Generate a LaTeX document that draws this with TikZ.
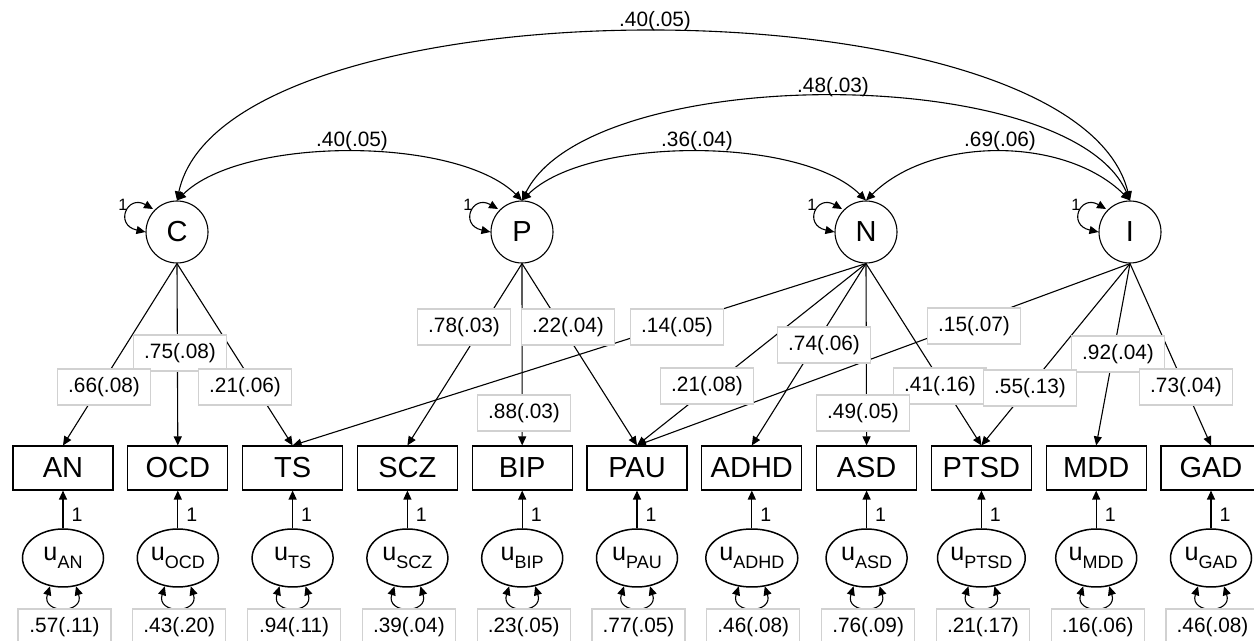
\documentclass[tikz,border=0pt]{standalone}
\usepackage{fontspec}
\setmainfont{Liberation Sans}
\usetikzlibrary{shapes.geometric,arrows.meta}
\newcommand\usubs[1]{{\fontsize{12.6}{13}\selectfont u}\raisebox{-4pt}{\fontsize{9}{10}\selectfont #1}}
\begin{document}
\begin{tikzpicture}[x=0.5pt,y=-0.5pt,line width=0.55pt,
 >={Triangle[length=4.5pt,width=4pt]},
 latent/.style={circle,draw,minimum size=31pt,inner sep=0pt,font=\fontsize{14.5}{16}\selectfont},
 obs/.style={rectangle,draw,minimum width=50pt,minimum height=22pt,inner sep=0pt,font=\fontsize{14.5}{16}\selectfont},
 err/.style={ellipse,draw,line width=0.75pt,minimum width=40.5pt,minimum height=29pt,inner sep=0pt},
 lbl/.style={rectangle,draw=black!18,fill=white,minimum width=46.5pt,minimum height=18pt,inner sep=0pt,font=\fontsize{10.4}{12}\selectfont},
 covlbl/.style={inner sep=0pt,font=\fontsize{10.4}{12}\selectfont},
 one/.style={inner sep=0pt,font=\fontsize{9.8}{11}\selectfont},
 onesm/.style={inner sep=0pt,font=\fontsize{8.2}{9}\selectfont},
 load/.style={->},
 cov/.style={<->}]
\useasboundingbox (0,0) rectangle (1254,641);

% latent factors
\node[latent] (C) at (177,232) {C};
\node[latent] (P) at (522,232) {P};
\node[latent] (N) at (866,232) {N};
\node[latent] (I) at (1130,232) {I};

\foreach \lt in {C,P,N,I}{
  \draw[cov] ([shift={(-24,-23)}]\lt.center) .. controls ([shift={(-50,-38)}]\lt.center) and ([shift={(-63,-7)}]\lt.center) .. (\lt.west);
  \node[onesm] (one\lt) at ([shift={(-54,-27)}]\lt.center) {1};
}

% covariances
\draw[cov] (C.north) .. controls (242,136) and (457,136) .. (P.north);
\draw[cov] (P.north) .. controls (587,136) and (801,136) .. (N.north);
\draw[cov] (N.north) .. controls (931,136) and (1065,136) .. (I.north);
\draw[cov] (P.north) .. controls (590,62) and (1070,62) .. (I.north);
\draw[cov] (C.north) .. controls (225,-24) and (1075,-24) .. (I.north);
\node[covlbl] (k1) at (655,21) {.40(.05)};
\node[covlbl] (k2) at (833,87) {.48(.03)};
\node[covlbl] (k3) at (352,141) {.40(.05)};
\node[covlbl] (k4) at (697,141) {.36(.04)};
\node[covlbl] (k5) at (1000,141) {.69(.06)};

% indicators and residuals
\foreach \nm/\vv [count=\i from 0] in {AN/.57(.11),OCD/.43(.20),TS/.94(.11),SCZ/.39(.04),BIP/.23(.05),PAU/.77(.05),ADHD/.46(.08),ASD/.76(.09),PTSD/.21(.17),MDD/.16(.06),GAD/.46(.08)}{
  \pgfmathsetmacro\xx{63+114.8*\i}
  \node[obs] (\nm) at (\xx,468) {\nm};
  \node[err] (e\nm) at (\xx,558) {\usubs{\nm}};
  \draw[load] (e\nm.north) -- (\nm.south) node[one,pos=0.35,right=4pt] (o\nm) {1};
  \draw[cov] ([shift={(-13,-1.5)}]e\nm.south) .. controls +(-9,28) and +(9,28) .. ([shift={(13,-1.5)}]e\nm.south);
  \node[lbl] (v\nm) at (\xx+1.5,627) {\vv};
}

% loadings
\draw[load] (C.south) -- (AN.north);
\draw[load] (C.south) -- (OCD.north);
\draw[load] (C.south) -- (TS.north);
\draw[load] (P.south) -- (SCZ.north);
\draw[load] (P.south) -- (BIP.north);
\draw[load] (P.south) -- (PAU.north);
\draw[load] (N.south) -- (TS.north);
\draw[load] (N.south) -- (PAU.north);
\draw[load] (N.south) -- (ADHD.north);
\draw[load] (N.south) -- (ASD.north);
\draw[load] (N.south) -- (PTSD.north);
\draw[load] (I.south) -- (PAU.north);
\draw[load] (I.south) -- (PTSD.north);
\draw[load] (I.south) -- (MDD.north);
\draw[load] (I.south) -- (GAD.north);

% loading labels (upper row first)
\node[lbl] (l78) at (464,327) {.78(.03)};
\node[lbl] (l22) at (568,327) {.22(.04)};
\node[lbl] (l14) at (677,327) {.14(.05)};
\node[lbl] (l15) at (974,326) {.15(.07)};
\node[lbl] (l74) at (824,345) {.74(.06)};
\node[lbl] (l75) at (180,353) {.75(.08)};
\node[lbl] (l92) at (1118,354) {.92(.04)};
\node[lbl] (l66) at (104,387) {.66(.08)};
\node[lbl] (l21a) at (245,387) {.21(.06)};
\node[lbl] (l21b) at (707,386) {.21(.08)};
\node[lbl] (l41) at (940,386) {.41(.16)};
\node[lbl] (l55) at (1030,388) {.55(.13)};
\node[lbl] (l73) at (1186,387) {.73(.04)};
\node[lbl] (l88) at (524,413) {.88(.03)};
\node[lbl] (l49) at (863,413) {.49(.05)};
\end{tikzpicture}
\end{document}
